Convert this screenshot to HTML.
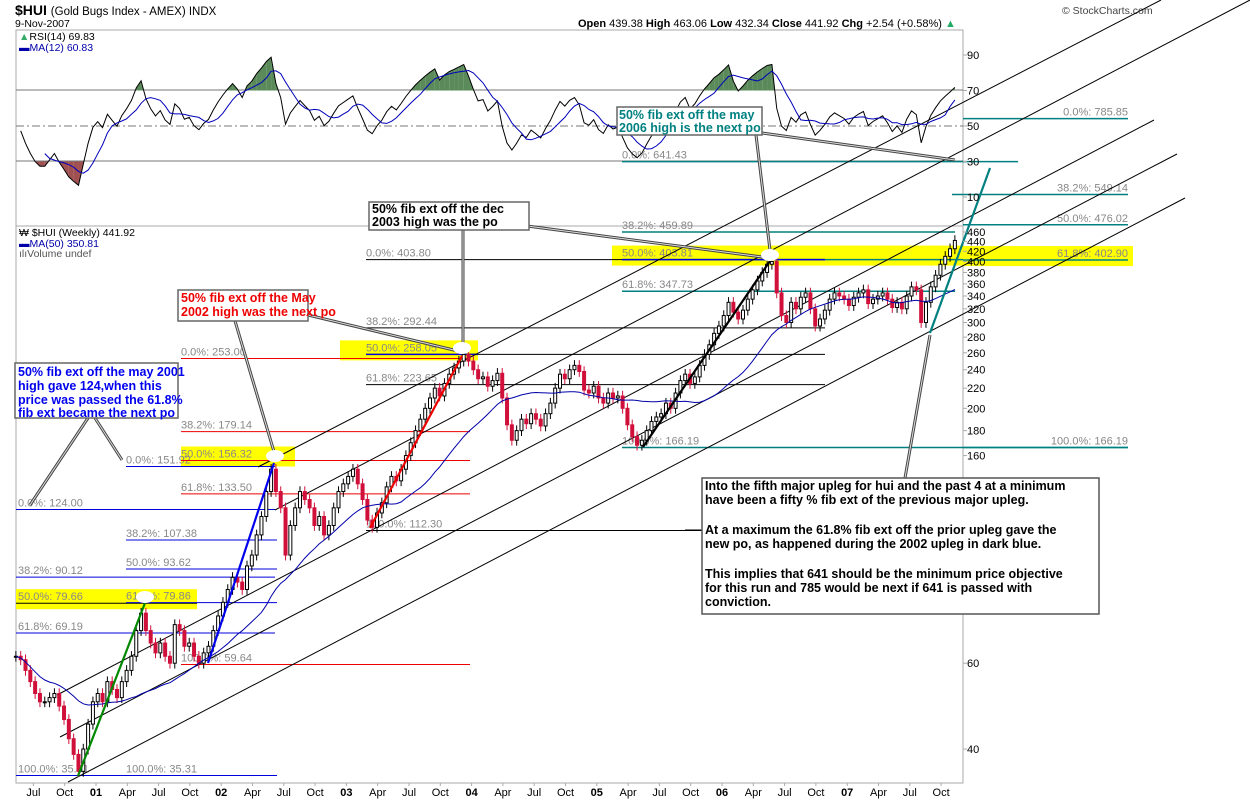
<!DOCTYPE html>
<html><head><meta charset="utf-8">
<style>
html,body{margin:0;padding:0;background:#fff;}
svg{display:block;font-family:"Liberation Sans",sans-serif;}
.fl{font-size:11px;fill:#888;}
.ax{font-size:11px;fill:#000;}
.note{font-size:12.5px;font-weight:bold;}
</style></head>
<body>
<svg id="chart" width="1250" height="800" viewBox="0 0 1250 800" xmlns="http://www.w3.org/2000/svg">
  <text x="15" y="15" font-size="14" font-weight="bold">$HUI <tspan font-weight="normal" font-size="11.5">(Gold Bugs Index - AMEX) INDX</tspan></text>
  <text x="15" y="27" font-size="10.5">9-Nov-2007</text>
  <text x="1062" y="14" font-size="10.5" fill="#444">© StockCharts.com</text>
  <text x="578" y="27" font-size="11"><tspan font-weight="bold">Open</tspan> 439.38 <tspan font-weight="bold">High</tspan> 463.06 <tspan font-weight="bold">Low</tspan> 432.34 <tspan font-weight="bold">Close</tspan> 441.92 <tspan font-weight="bold">Chg</tspan> +2.54 (+0.58%) <tspan fill="#2a6">▲</tspan></text>

  <rect x="16" y="30" width="947" height="196" fill="none" stroke="#aaa"/>
  <rect x="16" y="226" width="947" height="557" fill="none" stroke="#aaa"/>
  <line x1="16" y1="90" x2="963" y2="90" stroke="#777"/>
  <line x1="16" y1="161" x2="963" y2="161" stroke="#777"/>
  <line x1="16" y1="126" x2="963" y2="126" stroke="#777" stroke-dasharray="8,3,2,3"/>

  <g id="overlay"></g>
  <g id="rsi"></g>
  <g id="price"></g>
  <g id="lines2"></g>
  <g id="axes"></g>

  <text x="19" y="40" font-size="10.5" fill="#000"><tspan fill="#3a6">▲</tspan>RSI(14) 69.83</text>
  <text x="19" y="51" font-size="10.5" fill="#00a">▬MA(12) 60.83</text>
  <text x="19" y="236" font-size="10.5" fill="#000">₩ $HUI (Weekly) 441.92</text>
  <text x="19" y="247" font-size="10.5" fill="#00a">▬MA(50) 350.81</text>
  <text x="19" y="257" font-size="10.5" fill="#555">ılıVolume undef</text>

  <g>
    <rect x="15" y="363" width="163" height="55" fill="#fff" stroke="#666" stroke-width="1.5"/>
    <text class="note" fill="#0000ee" x="18" y="376">50% fib ext off the may 2001</text>
    <text class="note" fill="#0000ee" x="18" y="390">high gave 124,when this</text>
    <text class="note" fill="#0000ee" x="18" y="404">price was passed the 61.8%</text>
    <text class="note" fill="#0000ee" x="18" y="417">fib ext became the next po</text>
  </g>
  <g>
    <rect x="178" y="290" width="130" height="31" fill="#fff" stroke="#666" stroke-width="1.5"/>
    <text class="note" fill="#ee0000" x="181" y="302">50% fib ext off the May</text>
    <text class="note" fill="#ee0000" x="181" y="316">2002 high was the next po</text>
  </g>
  <g>
    <rect x="369" y="202" width="160" height="28" fill="#fff" stroke="#666" stroke-width="1.5"/>
    <text class="note" fill="#000" x="372" y="213">50% fib ext off the dec</text>
    <text class="note" fill="#000" x="372" y="226">2003 high was the po</text>
  </g>
  <g>
    <rect x="617" y="107" width="145" height="28" fill="#fff" stroke="#666" stroke-width="1.5"/>
    <text class="note" fill="#008080" x="619" y="119">50% fib ext off the may</text>
    <text class="note" fill="#008080" x="619" y="132">2006 high is the next po</text>
  </g>
  <g>
    <rect x="702" y="478" width="397" height="136" fill="#fff" stroke="#555" stroke-width="1.5"/>
    <text class="note" fill="#000" x="705" y="490">Into the fifth major upleg for hui and the past 4 at a minimum</text>
    <text class="note" fill="#000" x="705" y="504">have been a fifty % fib ext of the previous major upleg.</text>
    <text class="note" fill="#000" x="705" y="534">At a maximum the 61.8% fib ext off the prior upleg gave the</text>
    <text class="note" fill="#000" x="705" y="548">new po, as happened during the 2002 upleg in dark blue.</text>
    <text class="note" fill="#000" x="705" y="578">This implies that 641 should be the minimum price objective</text>
    <text class="note" fill="#000" x="705" y="592">for this run and 785 would be next if 641 is passed with</text>
    <text class="note" fill="#000" x="705" y="606">conviction.</text>
  </g>
</svg>
<script>
const startYear = 2000.36;
const endYear = 2007.86;
const closes = [
62,61,58,55,52,50,50,51,52,49,46,42,39,36,
40,45,50,
52,50,55,53,51,55,58,62,70,76,70,66,63,66,62,60,72,70,65,66,62,60,63,65,70,75,
80,85,90,88,85,95,100,110,120,135,150,135,125,100,115,125,135,130,125,115,120,110,115,125,135,140,
145,150,140,130,118,114,122,128,138,145,142,150,160,170,180,190,200,210,220,212,225,235,242,250,258,250,
240,230,232,222,228,236,210,185,172,180,190,186,195,190,184,195,205,220,235,230,240,245,238,218,215,222,
210,205,215,210,212,200,185,175,168,172,180,188,192,195,205,200,215,228,235,225,232,245,258,270,285,295,
310,330,315,305,318,335,350,365,380,395,400,345,310,300,330,320,338,345,320,295,305,318,335,345,340,335,
325,338,345,350,328,335,340,345,335,322,330,320,340,355,350,300,330,355,375,395,410,425,442
];
const xLabels = ["Jul","Oct","01","Apr","Jul","Oct","02","Apr","Jul","Oct","03","Apr","Jul","Oct","04","Apr","Jul","Oct","05","Apr","Jul","Oct","06","Apr","Jul","Oct","07","Apr","Jul","Oct"];
const xLabelTimes = [2000.5,2000.75,2001,2001.25,2001.5,2001.75,2002,2002.25,2002.5,2002.75,2003,2003.25,2003.5,2003.75,2004,2004.25,2004.5,2004.75,2005,2005.25,2005.5,2005.75,2006,2006.25,2006.5,2006.75,2007,2007.25,2007.5,2007.75];
const priceTicks = [460,440,420,400,380,360,340,320,300,280,260,240,220,200,180,160,60,40];
const rsiTicks = [90,70,50,30,10];

const NS="http://www.w3.org/2000/svg";
function X(t){return 96+(t-2001)*125.2;}
function Y(p){return 232+(Math.log(460)-Math.log(p))*211.7;}
function RY(v){return 126-(v-50)*1.775;}
function tAt(i){return startYear+(endYear-startYear)*i/(closes.length-1);}
function mk(tag,attrs,parent){const e=document.createElementNS(NS,tag);for(const k in attrs)e.setAttribute(k,attrs[k]);parent.appendChild(e);return e;}

const ov=document.getElementById('overlay');
[[16,197,79.66],[181,295,156.32],[340,478,258.05],[612,963,403.81],[963,1133,402.9]].forEach(b=>{
  const r=mk('rect',{x:b[0],y:Y(b[2])-14,width:b[1]-b[0],height:20,fill:'#ffff00'},ov);
  
  
});
const fibs=[
[16,275,124.00,'#0000dd','0.0%: 124.00',18],
[16,275,90.12,'#0000dd','38.2%: 90.12',18],
[16,197,79.66,'#000','50.0%: 79.66',18],
[16,275,69.19,'#0000dd','61.8%: 69.19',18],
[16,277,35.31,'#0000dd','100.0%: 35.31',18],
[126,275,151.92,'#0000dd','0.0%: 151.92',126],
[126,277,107.38,'#0000dd','38.2%: 107.38',126],
[126,277,93.62,'#0000dd','50.0%: 93.62',126],
[126,277,79.86,'#0000dd','61.8%: 79.86',126],
[126,277,35.31,'#0000dd','100.0%: 35.31',126],
[181,470,253.00,'#e00','0.0%: 253.00',181],
[181,470,179.14,'#e00','38.2%: 179.14',181],
[181,470,156.32,'#e00','50.0%: 156.32',181],
[181,470,133.50,'#e00','61.8%: 133.50',181],
[181,470,59.64,'#e00','100.0%: 59.64',181],
[366,825,403.80,'#000','0.0%: 403.80',366],
[366,825,292.44,'#000','38.2%: 292.44',366],
[366,825,258.05,'#000','50.0%: 258.05',366],
[366,825,223.65,'#000','61.8%: 223.65',366],
[366,825,112.30,'#000','100.0%: 112.30',366],
[622,1018,641.43,'#008080','0.0%: 641.43',622],
[622,955,459.89,'#008080','38.2%: 459.89',622],
[622,963,403.81,'#008080','50.0%: 403.81',622],
[622,955,347.73,'#008080','61.8%: 347.73',622],
[622,1128,166.19,'#008080','100.0%: 166.19',622],
[963,1128,785.85,'#008080','0.0%: 785.85',-1128],
[952,1128,549.14,'#008080','38.2%: 549.14',-1128],
[963,1128,476.02,'#008080','50.0%: 476.02',-1128],
[963,1128,402.90,'#008080','61.8%: 402.90',-1128],
[963,1128,166.19,'#008080','100.0%: 166.19',-1128]
];
fibs.forEach(f=>{
  const y=Y(f[2]);
  const l=mk('line',{x1:f[0],x2:f[1],y1:y,y2:y,stroke:f[3],'stroke-width':f[3]=='#008080'?1.5:1},ov);
  
  
  const right=f[5]<0;
  const t=mk('text',{x:Math.abs(f[5]),y:y-3,class:'fl','text-anchor':right?'end':'start'},ov);
  t.textContent=f[4];
  
  
});
[[366,478,258.05],[622,825,403.81]].forEach(s=>{
  const l=mk('line',{x1:s[0],x2:s[1],y1:Y(s[2]),y2:Y(s[2]),stroke:'#0000dd','stroke-width':1.5},ov);
  
  
});
[[258,467,1161,0],[275,510,1250,0],[57,695,1154,120],[60,737,1177,154],[68,782,1185,198]].forEach(c=>{
  const l=mk('line',{x1:c[0],y1:c[1],x2:c[2],y2:c[3],stroke:'#000','stroke-width':1},ov);
  
  
});
[[88,418,30,505],[95,418,122,460],[235,321,275,455],[308,315,462,352],[463,230,463,350],[527,226,770,258],[756,135,770,250],[762,133,955,160],[905,478,930,335]].forEach(p=>{
  const a=mk('line',{x1:p[0],y1:p[1],x2:p[2],y2:p[3],stroke:'#444','stroke-width':3},ov);
  
  
  const b=mk('line',{x1:p[0],y1:p[1],x2:p[2],y2:p[3],stroke:'#ddd','stroke-width':1},ov);
  
  
});
const sp=mk('line',{x1:685,y1:530,x2:702,y2:530,stroke:'#000'},ov);



// ---- RSI ----
const rg=document.getElementById('rsi');
const N=12; const rsi=[];
let ag=0.8,al=0.8;
for(let i=1;i<closes.length;i++){
  const d=closes[i]-closes[i-1];const g=Math.max(d,0),lo=Math.max(-d,0);
  ag=(ag*(N-1)+g)/N;al=(al*(N-1)+lo)/N;
  rsi[i]=al===0?100:100-100/(1+ag/al);
}
const S=1;
let rp='';const rma=[];
for(let i=S;i<closes.length;i++){
  rp+=(i===S?'M':'L')+X(tAt(i)).toFixed(1)+','+RY(rsi[i]).toFixed(1);
  if(i>=S+5){let s=0;for(let k=i-5;k<=i;k++)s+=rsi[k];rma[i]=s/6;}
}
for(let i=S+1;i<closes.length;i++){
  const a=rsi[i-1],b=rsi[i];
  [[70,1,'#5a8a5a'],[30,-1,'#a05050']].forEach(th=>{
    const ea=(a-th[0])*th[1],eb=(b-th[0])*th[1];
    if(ea>0||eb>0){
      const x1=X(tAt(i-1)),x2=X(tAt(i));
      let xa=x1,xb=x2;
      if(ea<0)xa=x1+(x2-x1)*(-ea)/(eb-ea);
      if(eb<0)xb=x1+(x2-x1)*ea/(ea-eb);
      const va=ea<0?th[0]:a,vb=eb<0?th[0]:b;
      const p=mk('polygon',{points:`${xa},${RY(th[0])} ${xa},${RY(va)} ${xb},${RY(vb)} ${xb},${RY(th[0])}`,fill:th[2]},rg);
      
      
    }
  });
}
const rl=mk('path',{d:rp,fill:'none',stroke:'#000','stroke-width':1},rg);


let mp='';rma.forEach((v,i)=>{if(v!==undefined)mp+=(mp?'L':'M')+X(tAt(i)).toFixed(1)+','+RY(v).toFixed(1);});
const ml=mk('path',{d:mp,fill:'none',stroke:'#0000bb','stroke-width':1},rg);



// ---- price candles ----
const pg=document.getElementById('price');
let ma='';
for(let i=0;i<closes.length;i++){
  const c=closes[i],o=i?closes[i-1]:c;
  const hi=Math.max(o,c)*1.025,lo=Math.min(o,c)*0.975;
  const x=X(tAt(i)),up=c>=o,col=up?'#000':'#d0103a';
  const w=mk('line',{x1:x,x2:x,y1:Y(hi),y2:Y(lo),stroke:col,'stroke-width':1},pg);
  
  
  const yt=Y(Math.max(o,c)),yb=Y(Math.min(o,c));
  const b=mk('rect',{x:x-1.5,y:yt,width:3,height:Math.max(1,yb-yt),fill:up?'#fff':col,stroke:col,'stroke-width':1},pg);
  
  
  const n=Math.min(25,i+1);let s=0;for(let k=i-n+1;k<=i;k++)s+=closes[k];
  ma+=(i?'L':'M')+x.toFixed(1)+','+Y(s/n).toFixed(1);
}
const mal=mk('path',{d:ma,fill:'none',stroke:'#0000aa','stroke-width':1},pg);



const l2=document.getElementById('lines2');
[[78,776,145,603,'#080'],[208,663,274,463,'#0000ee'],[370,528,462,356,'#ee0000'],[643,447,770,261,'#000'],[930,333,990,168,'#008080']].forEach(u=>{
  const l=mk('line',{x1:u[0],y1:u[1],x2:u[2],y2:u[3],stroke:u[4],'stroke-width':2.2},l2);
  
  
});
[[145,597],[275,456],[462,348],[770,255]].forEach(c=>{
  const e=mk('ellipse',{cx:c[0],cy:c[1],rx:9,ry:6,fill:'#fff'},l2);
  
  
});

// ---- axes ----
const ax=document.getElementById('axes');
xLabels.forEach((lab,i)=>{
  const x=X(xLabelTimes[i]);
  const yr=/^\d/.test(lab);
  const t=mk('text',{x:x,y:796,class:'ax','text-anchor':'middle','font-weight':yr?'bold':'normal','font-size':yr?11:10},ax);
  t.textContent=lab;
  
  
  mk('line',{x1:x,x2:x,y1:783,y2:786,stroke:'#aaa'},ax);
});
priceTicks.forEach(p=>{
  const y=Y(p);
  mk('line',{x1:963,x2:967,y1:y,y2:y,stroke:'#aaa'},ax);
  const t=mk('text',{x:967,y:y+4,class:'ax'},ax);
  t.textContent=p;
  
  
});
rsiTicks.forEach(v=>{
  const y=RY(v);
  mk('line',{x1:963,x2:967,y1:y,y2:y,stroke:'#aaa'},ax);
  const t=mk('text',{x:967,y:y+4,class:'ax'},ax);
  t.textContent=v;
  
  
});
</script>
</body></html>
